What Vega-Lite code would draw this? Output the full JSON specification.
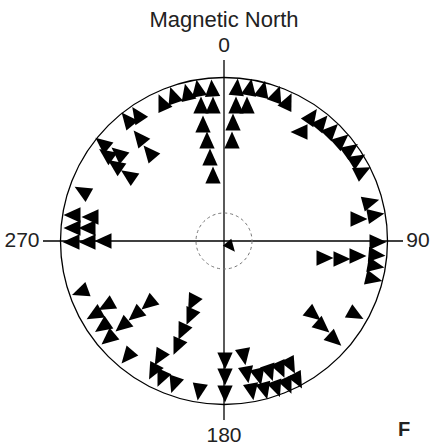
{
  "$schema": "https://vega.github.io/schema/vega-lite/v6.json",
  "width": 441,
  "height": 447,
  "autosize": "none",
  "padding": 0,
  "background": "white",
  "config": {"view": {"stroke": null}},
  "datasets": {
    "arrows": [
      {"x": -11, "y": 66, "a": 0}, {"x": -14, "y": 84, "a": 0}, {"x": -17, "y": 101, "a": 0}, {"x": -21, "y": 117, "a": 0},
      {"x": -23, "y": 136, "a": 0}, {"x": -11, "y": 136, "a": 0},
      {"x": -12, "y": 153, "a": -4}, {"x": -26, "y": 153, "a": -10}, {"x": -37, "y": 149, "a": -14}, {"x": -51, "y": 146, "a": -19}, {"x": -62, "y": 139, "a": -24},
      {"x": 13, "y": 154, "a": 5}, {"x": 26, "y": 154, "a": 10}, {"x": 39, "y": 152, "a": 14}, {"x": 53, "y": 147, "a": 20}, {"x": 64, "y": 140, "a": 25},
      {"x": 12, "y": 136, "a": 0}, {"x": 23, "y": 136, "a": 0}, {"x": 9, "y": 119, "a": 0}, {"x": 8, "y": 101, "a": 0},
      {"x": 88, "y": 125, "a": 35}, {"x": 98, "y": 119, "a": 40}, {"x": 108, "y": 111, "a": 44}, {"x": 118, "y": 101, "a": 49},
      {"x": 127, "y": 92, "a": 54}, {"x": 134, "y": 82, "a": 58}, {"x": 139, "y": 70, "a": 63}, {"x": 75, "y": 109, "a": 270},
      {"x": 147, "y": 39, "a": 75}, {"x": 152, "y": 26, "a": 80}, {"x": 135, "y": 22, "a": 90},
      {"x": 101, "y": -17, "a": 90}, {"x": 118, "y": -18, "a": 90}, {"x": 134, "y": -15, "a": 90},
      {"x": 154, "y": -1, "a": 90}, {"x": 153, "y": -14, "a": 95}, {"x": 152, "y": -25, "a": 100}, {"x": 150, "y": -38, "a": 103},
      {"x": -142, "y": 50, "a": 300},
      {"x": -152, "y": 26, "a": 270}, {"x": -134, "y": 24, "a": 270}, {"x": -152, "y": 13, "a": 270}, {"x": -137, "y": 13, "a": 270},
      {"x": -153, "y": -1, "a": 270}, {"x": -137, "y": -1, "a": 270}, {"x": -121, "y": 0, "a": 270},
      {"x": -97, "y": 122, "a": 321}, {"x": -87, "y": 127, "a": 326}, {"x": -85, "y": 104, "a": 321}, {"x": -75, "y": 89, "a": 320},
      {"x": -122, "y": 98, "a": 309}, {"x": -118, "y": 87, "a": 306}, {"x": -106, "y": 88, "a": 310}, {"x": -109, "y": 76, "a": 305}, {"x": -96, "y": 66, "a": 304},
      {"x": -144, "y": -51, "a": 250}, {"x": -130, "y": -74, "a": 240}, {"x": -118, "y": -65, "a": 241}, {"x": -122, "y": -86, "a": 235},
      {"x": -116, "y": -98, "a": 230}, {"x": -102, "y": -85, "a": 230}, {"x": -89, "y": -74, "a": 230}, {"x": -76, "y": -63, "a": 230},
      {"x": -97, "y": -116, "a": 220}, {"x": -65, "y": -117, "a": 210}, {"x": -71, "y": -131, "a": 208}, {"x": -63, "y": -138, "a": 204}, {"x": -50, "y": -144, "a": 199},
      {"x": -32, "y": -62, "a": 207}, {"x": -34, "y": -76, "a": 204}, {"x": -42, "y": -91, "a": 205}, {"x": -47, "y": -106, "a": 204},
      {"x": -25, "y": -151, "a": 189},
      {"x": 1, "y": -120, "a": 180}, {"x": 1, "y": -136, "a": 180}, {"x": 1, "y": -153, "a": 180},
      {"x": 20, "y": -116, "a": 170},
      {"x": 23, "y": -134, "a": 170}, {"x": 35, "y": -136, "a": 166}, {"x": 46, "y": -132, "a": 161}, {"x": 57, "y": -129, "a": 156}, {"x": 67, "y": -125, "a": 152},
      {"x": 28, "y": -151, "a": 170}, {"x": 41, "y": -150, "a": 165}, {"x": 53, "y": -148, "a": 160}, {"x": 64, "y": -145, "a": 156}, {"x": 74, "y": -140, "a": 152},
      {"x": 90, "y": -74, "a": 129}, {"x": 99, "y": -86, "a": 131}, {"x": 111, "y": -99, "a": 132}, {"x": 132, "y": -74, "a": 119}
    ],
    "centre": [
      {"x": 7, "y": -6, "a": 140}
    ],
    "circles": [
      {"x": 0, "y": 0, "kind": "outer"},
      {"x": 0, "y": 0, "kind": "inner"}
    ],
    "axes": [
      {"x": -181, "x2": 179, "y": 0, "y2": 0},
      {"x": 0, "x2": 0, "y": 181, "y2": -179}
    ],
    "labels": [
      {"x": 0, "y": 195, "t": "0"},
      {"x": 0, "y": -195, "t": "180"},
      {"x": -202, "y": 0, "t": "270"},
      {"x": 194, "y": 0, "t": "90"}
    ],
    "title": [
      {"x": 0, "y": 221, "t": "Magnetic North"}
    ],
    "tag": [
      {"x": 180, "y": -189, "t": "F"}
    ]
  },
  "layer": [
    {
      "data": {"name": "axes"},
      "mark": {"type": "rule", "color": "black", "strokeWidth": 1.3},
      "encoding": {
        "x": {"field": "x", "type": "quantitative", "scale": {"domain": [-224, 217], "nice": false, "zero": false}, "axis": null},
        "x2": {"field": "x2"},
        "y": {"field": "y", "type": "quantitative", "scale": {"domain": [-206, 241], "nice": false, "zero": false}, "axis": null},
        "y2": {"field": "y2"}
      }
    },
    {
      "data": {"name": "circles"},
      "transform": [{"filter": "datum.kind == 'outer'"}],
      "mark": {"type": "point", "shape": "circle", "filled": false, "color": "black", "strokeWidth": 1.3, "opacity": 1},
      "encoding": {
        "x": {"field": "x", "type": "quantitative", "scale": {"domain": [-224, 217], "nice": false, "zero": false}, "axis": null},
        "y": {"field": "y", "type": "quantitative", "scale": {"domain": [-206, 241], "nice": false, "zero": false}, "axis": null},
        "size": {"value": 106929}
      }
    },
    {
      "data": {"name": "circles"},
      "transform": [{"filter": "datum.kind == 'inner'"}],
      "mark": {"type": "point", "shape": "circle", "filled": false, "color": "#777777", "strokeWidth": 1, "strokeDash": [3, 3], "opacity": 1},
      "encoding": {
        "x": {"field": "x", "type": "quantitative", "scale": {"domain": [-224, 217], "nice": false, "zero": false}, "axis": null},
        "y": {"field": "y", "type": "quantitative", "scale": {"domain": [-206, 241], "nice": false, "zero": false}, "axis": null},
        "size": {"value": 3136}
      }
    },
    {
      "data": {"name": "arrows"},
      "mark": {"type": "point", "shape": "M0,-1L0.9,1L-0.9,1Z", "filled": true, "color": "black", "opacity": 1, "size": 289},
      "encoding": {
        "x": {"field": "x", "type": "quantitative", "scale": {"domain": [-224, 217], "nice": false, "zero": false}, "axis": null},
        "y": {"field": "y", "type": "quantitative", "scale": {"domain": [-206, 241], "nice": false, "zero": false}, "axis": null},
        "angle": {"field": "a", "type": "quantitative", "scale": null}
      }
    },
    {
      "data": {"name": "centre"},
      "mark": {"type": "point", "shape": "M0,-1L0.9,1L-0.9,1Z", "filled": true, "color": "black", "opacity": 1, "size": 150},
      "encoding": {
        "x": {"field": "x", "type": "quantitative", "scale": {"domain": [-224, 217], "nice": false, "zero": false}, "axis": null},
        "y": {"field": "y", "type": "quantitative", "scale": {"domain": [-206, 241], "nice": false, "zero": false}, "axis": null},
        "angle": {"field": "a", "type": "quantitative", "scale": null}
      }
    },
    {
      "data": {"name": "labels"},
      "mark": {"type": "text", "font": "Liberation Sans", "fontSize": 21, "color": "#222222", "baseline": "middle", "align": "center"},
      "encoding": {
        "x": {"field": "x", "type": "quantitative", "scale": {"domain": [-224, 217], "nice": false, "zero": false}, "axis": null},
        "y": {"field": "y", "type": "quantitative", "scale": {"domain": [-206, 241], "nice": false, "zero": false}, "axis": null},
        "text": {"field": "t"}
      }
    },
    {
      "data": {"name": "title"},
      "mark": {"type": "text", "font": "Liberation Sans", "fontSize": 22, "color": "#222222", "baseline": "middle", "align": "center"},
      "encoding": {
        "x": {"field": "x", "type": "quantitative", "scale": {"domain": [-224, 217], "nice": false, "zero": false}, "axis": null},
        "y": {"field": "y", "type": "quantitative", "scale": {"domain": [-206, 241], "nice": false, "zero": false}, "axis": null},
        "text": {"field": "t"}
      }
    },
    {
      "data": {"name": "tag"},
      "mark": {"type": "text", "font": "Liberation Sans", "fontSize": 20, "fontWeight": "bold", "color": "#222222", "baseline": "middle", "align": "center"},
      "encoding": {
        "x": {"field": "x", "type": "quantitative", "scale": {"domain": [-224, 217], "nice": false, "zero": false}, "axis": null},
        "y": {"field": "y", "type": "quantitative", "scale": {"domain": [-206, 241], "nice": false, "zero": false}, "axis": null},
        "text": {"field": "t"}
      }
    }
  ]
}
